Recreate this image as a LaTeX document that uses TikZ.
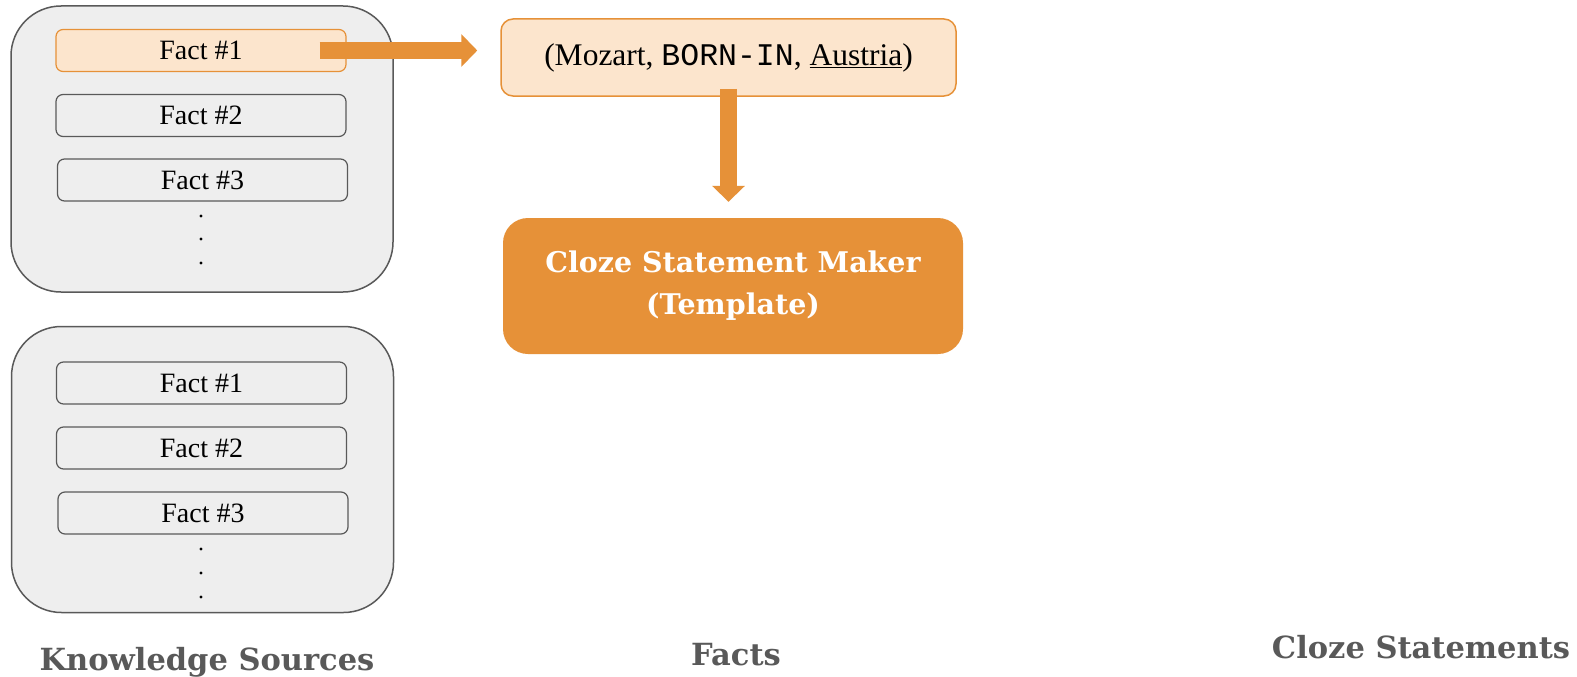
\documentclass[tikz,border=0pt]{standalone}
\usepackage{fontspec}
\setmainfont{Liberation Serif}
\setmonofont{Liberation Mono}
\newfontfamily\labelfont{DejaVu Serif}
\usetikzlibrary{arrows.meta,positioning}
\definecolor{figpeach}{RGB}{252,229,205}
\definecolor{figorange}{RGB}{230,145,56}
\definecolor{figgray}{RGB}{238,238,238}
\definecolor{figline}{RGB}{89,89,89}
\tikzset{
  sourcebox/.style={draw=figline, line width=1.5pt, fill=figgray, rounded corners=50pt, minimum width=382pt, minimum height=286pt, inner sep=0pt},
  factbox/.style={draw=figline, line width=1.2pt, fill=figgray, rounded corners=7pt, minimum width=290pt, minimum height=42pt, inner sep=0pt, font=\fontsize{28}{32}\selectfont},
  hotfact/.style={factbox, draw=figorange, fill=figpeach},
  triplebox/.style={draw=figorange, line width=1.5pt, fill=figpeach, rounded corners=12pt, minimum width=455pt, minimum height=77pt, inner sep=0pt, font=\fontsize{31.5}{36}\selectfont},
  makerbox/.style={fill=figorange, rounded corners=25pt, minimum width=460pt, minimum height=136pt, align=center, text=white, font=\labelfont\bfseries\fontsize{28.5}{42}\selectfont},
  fatarrow/.style={draw=figorange, line width=17pt, -{Triangle[length=16pt,width=32pt]}},
  figlabel/.style={text=figline, anchor=base, font=\labelfont\bfseries\fontsize{30.5}{34}\selectfont}
}
\begin{document}
\begin{tikzpicture}[x=1pt,y=-1pt]
  \useasboundingbox[fill=white] (0,0) rectangle (1577,677);

  % knowledge sources
  \node[sourcebox] (srcA) at (202,149) {};
  \node[sourcebox] (srcB) at (202.5,469.5) {};
  \node[hotfact] (fa1) at (201,50.5) {Fact \#1};
  \node[factbox] (fa2) at (201,115.5) {Fact \#2};
  \node[factbox] (fa3) at (202.5,180) {Fact \#3};
  \node[factbox] (fb1) at (201.5,383) {Fact \#1};
  \node[factbox] (fb2) at (201.5,448) {Fact \#2};
  \node[factbox] (fb3) at (203,513) {Fact \#3};
  \foreach \y in {216,239,263,549,573,597} {
    \fill (201,\y) circle (1.6pt);
  }

  % facts
  \node[triplebox] (triple) at (728.5,57.5) {(Mozart, \texttt{BORN-IN}, \underline{Austria})};
  \node[makerbox] (maker) at (733,286) {Cloze Statement Maker\\(Template)};
  \draw[fatarrow] ([xshift=-27pt]fa1.east) -- ([xshift=-23pt]fa1.east -| triple.west);
  \draw[fatarrow] ([yshift=8pt]triple.south) -- ([yshift=16pt]maker.north -| triple.south);

  % column titles
  \node[figlabel] (ksLabel) at (207,670) {Knowledge Sources};
  \node[figlabel] (factLabel) at (736,665) {Facts};
  \node[figlabel] (clozeLabel) at (1421,658) {Cloze Statements};
\end{tikzpicture}
\end{document}
